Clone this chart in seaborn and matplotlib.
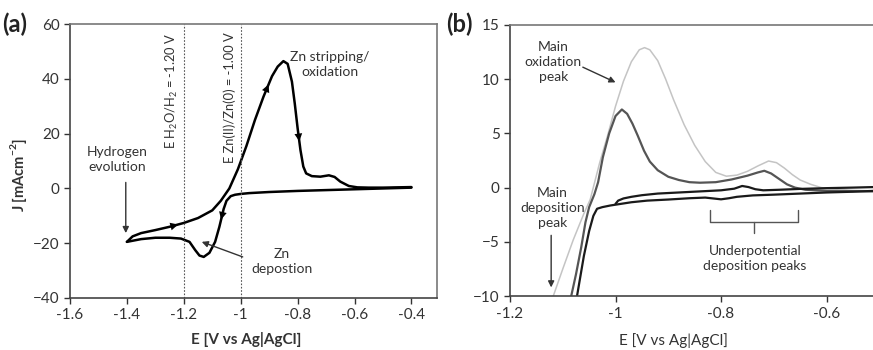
import numpy as np
import pandas as pd
import seaborn as sns
import matplotlib
matplotlib.use("Agg")
import matplotlib.pyplot as plt

# ---------------- data: panel (a) ----------------
E_a_cath = [-0.40, -0.50, -0.60, -0.70, -0.80, -0.90, -0.97, -1.00, -1.02, -1.035,
            -1.05, -1.06, -1.075, -1.09, -1.11, -1.13, -1.145, -1.16, -1.18, -1.21,
            -1.25, -1.30, -1.35, -1.40]
J_a_cath = [0.3, 0.0, -0.3, -0.6, -0.9, -1.3, -1.7, -2.0, -2.3, -2.8,
            -4.5, -7.5, -14.0, -19.5, -23.5, -25.0, -24.5, -22.5, -19.5, -18.3,
            -18.0, -18.0, -18.5, -19.5]
E_a_anod = [-1.40, -1.38, -1.35, -1.30, -1.25, -1.20, -1.15, -1.10, -1.07, -1.04,
            -1.01, -0.98, -0.95, -0.92, -0.89, -0.87, -0.85, -0.835, -0.82, -0.81,
            -0.80, -0.79, -0.78, -0.77, -0.75, -0.72, -0.69, -0.67, -0.65, -0.62,
            -0.59, -0.55, -0.50, -0.45, -0.40]
J_a_anod = [-19.5, -17.5, -16.3, -15.2, -14.0, -12.6, -10.8, -8.0, -4.5, 0.0,
            7.0, 15.5, 25.0, 33.5, 41.0, 44.5, 46.5, 45.5, 39.0, 31.0,
            22.0, 14.0, 8.0, 5.5, 4.5, 4.3, 4.8, 4.2, 2.5, 0.9,
            0.4, 0.3, 0.3, 0.4, 0.5]
ref_potentials = [-1.20, -1.00]
ref_labels = ["E H$_2$O/H$_2$ = -1.20 V", "E Zn(II)/Zn(0) = -1.00 V"]
xticks_a = [-1.6, -1.4, -1.2, -1.0, -0.8, -0.6, -0.4]
xticklabels_a = ["-1.6", "-1.4", "-1.2", "-1", "-0.8", "-0.6", "-0.4"]
yticks_a = [-40, -20, 0, 20, 40, 60]

# ---------------- data: panel (b) ----------------
E_b_light = [-1.118, -1.10, -1.08, -1.06, -1.048, -1.03, -1.015, -1.0, -0.985, -0.97,
             -0.955, -0.945, -0.935, -0.92, -0.905, -0.89, -0.87, -0.85, -0.83, -0.81,
             -0.79, -0.77, -0.75, -0.73, -0.71, -0.695, -0.68, -0.665, -0.65, -0.63,
             -0.61, -0.58, -0.55, -0.51]
J_b_light = [-10.0, -7.5, -4.8, -2.4, -1.1, 2.3, 4.8, 7.5, 9.8, 11.6,
             12.7, 12.9, 12.7, 11.7, 10.0, 8.1, 5.8, 3.9, 2.4, 1.4,
             1.05, 1.15, 1.5, 2.0, 2.45, 2.3, 1.8, 1.2, 0.7, 0.3,
             0.0, -0.15, -0.25, -0.3]
E_b_dark = [-1.084, -1.075, -1.065, -1.057, -1.05, -1.045, -1.04, -1.033, -1.024, -1.012,
            -1.0, -0.988, -0.978, -0.968, -0.958, -0.946, -0.935, -0.92, -0.90, -0.88,
            -0.86, -0.84, -0.81, -0.78, -0.75, -0.73, -0.718, -0.705, -0.69, -0.675,
            -0.66, -0.64, -0.60, -0.51]
J_b_dark = [-10.0, -8.0, -5.5, -3.2, -1.8, -1.2, -0.6, 0.5, 2.8, 5.0,
            6.6, 7.2, 6.8, 5.9, 4.8, 3.4, 2.4, 1.6, 1.0, 0.7,
            0.5, 0.45, 0.5, 0.75, 1.1, 1.4, 1.55, 1.3, 0.8, 0.3,
            0.0, -0.2, -0.3, -0.35]
E_b_cath = [-0.51, -0.55, -0.60, -0.65, -0.70, -0.74, -0.77, -0.785, -0.80, -0.815,
            -0.83, -0.86, -0.90, -0.94, -0.97, -0.99, -1.01, -1.025, -1.035, -1.042,
            -1.05, -1.06, -1.073]
J_b_cath = [-0.3, -0.38, -0.45, -0.55, -0.65, -0.72, -0.85, -0.98, -1.08, -1.0,
            -0.92, -0.98, -1.1, -1.2, -1.35, -1.5, -1.65, -1.8, -1.95, -2.6,
            -4.0, -6.3, -10.0]
E_b_anod = [-1.0, -0.995, -0.985, -0.97, -0.95, -0.92, -0.88, -0.84, -0.80, -0.775,
            -0.76, -0.748, -0.735, -0.72, -0.69, -0.65, -0.60, -0.55, -0.51]
J_b_anod = [-1.5, -1.2, -1.0, -0.85, -0.7, -0.55, -0.45, -0.35, -0.25, -0.1,
            0.15, 0.05, -0.15, -0.25, -0.2, -0.12, -0.05, 0.0, 0.05]
xticks_b = [-1.2, -1.0, -0.8, -0.6]
xticklabels_b = ["-1.2", "-1", "-0.8", "-0.6"]
yticks_b = [-10, -5, 0, 5, 10, 15]

# ---------------- style ----------------
sns.set_style("ticks")
plt.rcParams["font.family"] = ["Lato", "DejaVu Sans"]
plt.rcParams["mathtext.fontset"] = "custom"
plt.rcParams["mathtext.rm"] = "Lato"
plt.rcParams["mathtext.bf"] = "Lato:bold"

fig = plt.figure(figsize=(8.73, 3.5), dpi=100)
ax1 = fig.add_axes([0.0802, 0.1486, 0.4204, 0.7824])
ax2 = fig.add_axes([0.5842, 0.154, 0.4158, 0.775])

TXT = "#333333"
tick_fs = 11
ann_fs = 10

def arrowhead(ax, xs, ys, i, color="black", size=14):
    x0, y0 = xs[i], ys[i]
    x1, y1 = xs[i + 1], ys[i + 1]
    xm, ym = x0 + 0.6 * (x1 - x0), y0 + 0.6 * (y1 - y0)
    ax.annotate("", xy=(xm, ym), xytext=(x0, y0),
                arrowprops=dict(arrowstyle="-|>", color=color, lw=0.0,
                                mutation_scale=size, shrinkA=0, shrinkB=0))

# ---------------- panel (a) ----------------
df_ac = pd.DataFrame({"E": E_a_cath, "J": J_a_cath})
df_aa = pd.DataFrame({"E": E_a_anod, "J": J_a_anod})
sns.lineplot(data=df_ac, x="E", y="J", sort=False, estimator=None, ax=ax1,
             color="black", lw=1.8)
sns.lineplot(data=df_aa, x="E", y="J", sort=False, estimator=None, ax=ax1,
             color="black", lw=1.8)
arrowhead(ax1, E_a_anod, J_a_anod, 4)
arrowhead(ax1, E_a_anod, J_a_anod, 13)
arrowhead(ax1, E_a_anod, J_a_anod, 20)
arrowhead(ax1, E_a_cath, J_a_cath, 11)

for xv, lab, ytop in zip(ref_potentials, ref_labels, [57, 57]):
    ax1.axvline(xv, color="#555555", ls=(0, (1.5, 1.5)), lw=0.8)
    ax1.text(xv - 0.04, ytop, lab, rotation=90, ha="center", va="top",
             fontsize=9.3, color=TXT)

ax1.set_xlim(-1.6, -0.31)
ax1.set_ylim(-40, 60)
ax1.set_xticks(xticks_a)
ax1.set_xticklabels(xticklabels_a)
ax1.set_yticks(yticks_a)
ax1.tick_params(labelsize=tick_fs, colors=TXT, length=4, width=1)
ax1.set_xlabel("E [V vs Ag|AgCl]", fontsize=11, fontweight="bold", color=TXT)
ax1.set_ylabel("J [mAcm$^{\\mathbf{-2}}$]", fontsize=10.5, fontweight="bold", color=TXT)
ax1.yaxis.set_label_coords(-0.112, 0.45)
ax1.xaxis.set_label_coords(0.48, -0.125)
for s in ["left", "bottom"]:
    ax1.spines[s].set_color("#444444")
    ax1.spines[s].set_linewidth(1.2)
for s in ["top", "right"]:
    ax1.spines[s].set_visible(True)
    ax1.spines[s].set_color("#777777")
    ax1.spines[s].set_linewidth(1.2)

ax1.text(-1.435, 10.4, "Hydrogen\nevolution", ha="center", va="center",
         fontsize=ann_fs, color=TXT, linespacing=1.3)
ax1.annotate("", xy=(-1.404, -16.3), xytext=(-1.404, 2.2),
             arrowprops=dict(arrowstyle="-|>", color="#333333", lw=1.0,
                             mutation_scale=9, shrinkA=0, shrinkB=0))
ax1.text(-0.688, 45.4, "Zn stripping/\noxidation", ha="center", va="center",
         fontsize=ann_fs, color=TXT, linespacing=1.3)
ax1.text(-0.856, -26.5, "Zn\ndepostion", ha="center", va="center",
         fontsize=ann_fs, color=TXT, linespacing=1.3)
ax1.annotate("", xy=(-1.137, -19.5), xytext=(-0.993, -25),
             arrowprops=dict(arrowstyle="-|>", color="#333333", lw=1.0,
                             mutation_scale=9, shrinkA=0, shrinkB=0))
fig.text(0.003, 0.93, "(a)", fontsize=17, fontweight="bold", color="#222222",
         va="center", ha="left")

# ---------------- panel (b) ----------------
curves_b = [(E_b_light, J_b_light, "#c4c4c4", 1.1),
            (E_b_dark, J_b_dark, "#555555", 1.6),
            (E_b_cath, J_b_cath, "#1a1a1a", 1.6),
            (E_b_anod, J_b_anod, "#1a1a1a", 1.6)]
for xs, ys, col, lw in curves_b:
    sns.lineplot(x=xs, y=ys, sort=False, estimator=None, ax=ax2, color=col, lw=lw)

ax2.set_xlim(-1.2, -0.512)
ax2.set_ylim(-10, 15)
ax2.set_xticks(xticks_b)
ax2.set_xticklabels(xticklabels_b)
ax2.set_yticks(yticks_b)
ax2.tick_params(labelsize=tick_fs, colors=TXT, length=4, width=1)
ax2.set_xlabel("E [V vs Ag|AgCl]", fontsize=11, color=TXT)
ax2.xaxis.set_label_coords(0.449, -0.135)
ax2.set_ylabel("")
for s in ["left", "bottom"]:
    ax2.spines[s].set_color("#444444")
    ax2.spines[s].set_linewidth(1.2)
ax2.spines["top"].set_visible(True)
ax2.spines["top"].set_color("#777777")
ax2.spines["top"].set_linewidth(1.2)
ax2.spines["right"].set_visible(False)

ax2.text(-1.118, 11.6, "Main\noxidation\npeak", ha="center", va="center",
         fontsize=ann_fs, color=TXT, linespacing=1.3)
ax2.annotate("", xy=(-1.0, 9.7), xytext=(-1.062, 11.1),
             arrowprops=dict(arrowstyle="-|>", color="#333333", lw=1.0,
                             mutation_scale=9, shrinkA=0, shrinkB=0))
ax2.text(-1.12, -1.9, "Main\ndeposition\npeak", ha="center", va="center",
         fontsize=ann_fs, color=TXT, linespacing=1.3)
ax2.annotate("", xy=(-1.122, -9.2), xytext=(-1.122, -4.4),
             arrowprops=dict(arrowstyle="-|>", color="#333333", lw=1.0,
                             mutation_scale=9, shrinkA=0, shrinkB=0))
# brace
bx0, bx1, bxc = -0.821, -0.654, -0.7375
ax2.plot([bx0, bx0, bx1, bx1], [-2.1, -3.2, -3.2, -2.1], color="#555555", lw=1.0)
ax2.plot([bxc, bxc], [-3.2, -4.2], color="#555555", lw=1.0)
ax2.text(-0.736, -6.5, "Underpotential\ndeposition peaks", ha="center", va="center",
         fontsize=ann_fs, color=TXT, linespacing=1.3)
fig.text(0.511, 0.93, "(b)", fontsize=17, fontweight="bold", color="#222222",
         va="center", ha="left")

fig.savefig("out.png", dpi=100)
